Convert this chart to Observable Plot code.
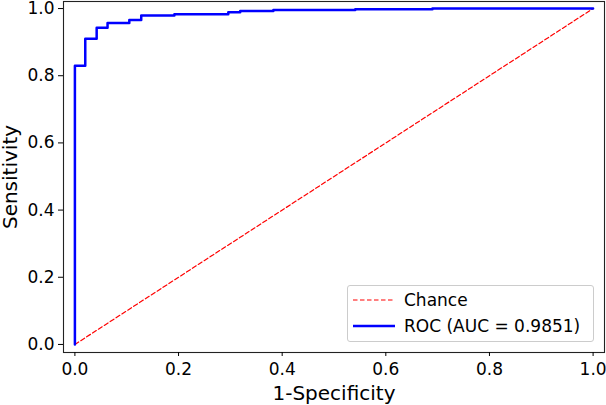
<!DOCTYPE html>
<html>
<head>
<meta charset="utf-8">
<script src="https://cdn.jsdelivr.net/npm/d3@7"></script>
<script src="https://cdn.jsdelivr.net/npm/@observablehq/plot@0.6"></script>
<style>
  html, body { margin: 0; padding: 0; background: #fff; }
  #wrap { position: relative; width: 606px; height: 405px; font-family: "DejaVu Sans", sans-serif; }
  #legend {
    position: absolute; left: 347px; top: 285px; width: 247px; height: 57px;
    box-sizing: border-box; border: 1px solid #cccccc; border-radius: 3px;
    background: rgba(255,255,255,0.8); font-size: 17px; color: #000;
  }
  .row { position: absolute; left: 0; height: 20px; display: flex; align-items: center; }
  .row span { position: absolute; left: 56px; white-space: nowrap; }
</style>
</head>
<body>
<div id="wrap"></div>
<script>
// ROC curve points (step-after)
const fpr = [0, 0, 0.020, 0.042, 0.063, 0.105, 0.128, 0.192, 0.296, 0.319, 0.383, 0.541, 0.690, 1.0];
const tpr = [0, 0.830, 0.910, 0.943, 0.957, 0.966, 0.979, 0.983, 0.989, 0.993, 0.996, 0.998, 1.0, 1.0];
const chanceX = [0, 1];
const chanceY = [0, 1];
const ticks = [0, 0.2, 0.4, 0.6, 0.8, 1.0];
const legendLabels = ["Chance", "ROC (AUC = 0.9851)"];

const roc = fpr.map((x, i) => ({x, y: tpr[i]}));
const chance = chanceX.map((x, i) => ({x, y: chanceY[i]}));

const plot = Plot.plot({
  width: 606,
  height: 405,
  marginLeft: 63,
  marginRight: 2,
  marginTop: 1,
  marginBottom: 53,
  style: {fontFamily: "DejaVu Sans, sans-serif", fontSize: "17px", color: "#000", background: "#fff", overflow: "visible"},
  x: {domain: [-0.022, 1.022]},
  y: {domain: [-0.024, 1.021]},
  marks: [
    Plot.line(chance, {x: "x", y: "y", stroke: "#ff0000", strokeWidth: 1.2, strokeDasharray: "4.5,2.5"}),
    Plot.line(roc, {x: "x", y: "y", stroke: "#0000ff", strokeWidth: 2.5, curve: "step-after"}),
    Plot.frame({stroke: "#222", strokeWidth: 1.1}),
    Plot.axisX({ticks, tickFormat: d3.format(".1f"), tickSize: 4, tickPadding: 6, fontSize: 17, label: null}),
    Plot.axisY({ticks, tickFormat: d3.format(".1f"), tickSize: 5, tickPadding: 4, fontSize: 17, label: null}),
    Plot.axisX({ticks: [], tickSize: 0, label: "1-Specificity", labelAnchor: "center", labelOffset: 47, labelArrow: "none", fontSize: 20}),
    Plot.axisY({ticks: [], tickSize: 0, label: "Sensitivity", labelAnchor: "center", labelOffset: 61, labelArrow: "none", fontSize: 20})
  ]
});

const wrap = document.getElementById("wrap");
wrap.appendChild(plot);

const leg = document.createElement("div");
leg.id = "legend";
const styles = [
  {color: "#ff0000", dash: true, w: 1.2},
  {color: "#0000ff", dash: false, w: 2.5}
];
legendLabels.forEach((lab, i) => {
  const row = document.createElement("div");
  row.className = "row";
  row.style.top = (4 + i * 26) + "px";
  row.style.width = "240px";
  const s = styles[i];
  row.innerHTML = `<svg width="50" height="20" style="position:absolute;left:4px;top:0"><line x1="1" x2="43" y1="10" y2="10" stroke="${s.color}" stroke-width="${s.w}" ${s.dash ? 'stroke-dasharray="4.5,2.5"' : ''}/></svg><span>${lab}</span>`;
  leg.appendChild(row);
});
wrap.appendChild(leg);
</script>
</body>
</html>
